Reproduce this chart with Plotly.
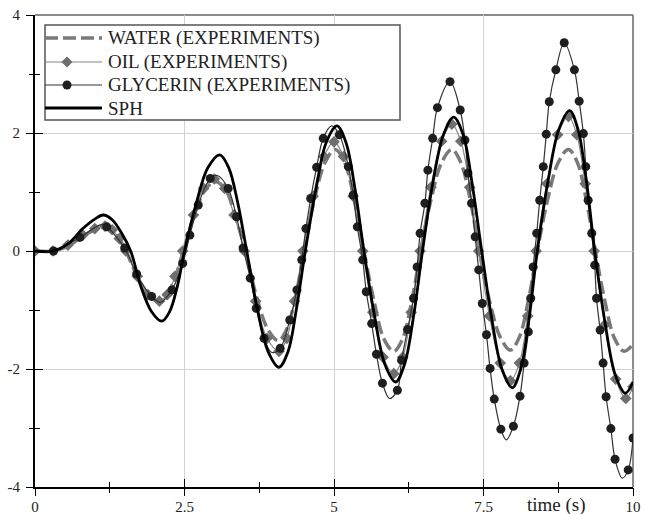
import plotly.graph_objects as go

# ---------------- data ----------------
water_t = [0, 0.3, 0.55, 0.8, 1.0, 1.17, 1.29, 1.41, 1.52, 1.71, 1.89, 2.08, 2.21, 2.35, 2.48,
           2.66, 2.84, 3.02, 3.19, 3.35, 3.52, 3.7, 3.89, 4.07, 4.21, 4.36, 4.5, 4.67, 4.85, 5.02,
           5.18, 5.34, 5.5, 5.67, 5.83, 6.0, 6.15, 6.3, 6.45, 6.62, 6.8, 6.97, 7.12, 7.28, 7.43,
           7.6, 7.78, 7.95, 8.1, 8.25, 8.4, 8.57, 8.75, 8.92, 9.07, 9.22, 9.37, 9.53, 9.69, 9.85, 10.0]
water_y = [0, 0, 0.08, 0.25, 0.36, 0.4, 0.35, 0.2, 0, -0.43, -0.74, -0.85, -0.74, -0.43, 0,
           0.59, 1.03, 1.18, 1.03, 0.59, 0, -0.76, -1.32, -1.52, -1.32, -0.76, 0, 0.86, 1.5, 1.72,
           1.5, 0.86, 0, -0.85, -1.48, -1.7, -1.48, -0.85, 0, 0.86, 1.5, 1.72, 1.5, 0.86, 0,
           -0.84, -1.46, -1.68, -1.46, -0.84, 0, 0.86, 1.5, 1.72, 1.5, 0.86, 0, -0.85, -1.48, -1.7, -1.58]

oil_t = [0, 0.3, 0.55, 0.8, 1.0, 1.17, 1.29, 1.41, 1.52, 1.71, 1.89, 2.08, 2.21, 2.34, 2.47,
         2.65, 2.82, 3.0, 3.17, 3.33, 3.5, 3.69, 3.88, 4.08, 4.21, 4.34, 4.48, 4.65, 4.83, 5.0,
         5.16, 5.32, 5.48, 5.65, 5.82, 6.0, 6.15, 6.29, 6.44, 6.62, 6.8, 6.97, 7.12, 7.27, 7.42,
         7.6, 7.78, 7.95, 8.1, 8.24, 8.38, 8.56, 8.74, 8.92, 9.06, 9.2, 9.35, 9.53, 9.71, 9.88, 10.0]
oil_y = [0, 0, 0.1, 0.27, 0.38, 0.42, 0.36, 0.21, 0, -0.43, -0.74, -0.85, -0.74, -0.43, 0,
         0.61, 1.06, 1.22, 1.06, 0.61, 0, -0.85, -1.48, -1.7, -1.48, -0.85, 0, 0.93, 1.6, 1.85,
         1.6, 0.93, 0, -1.04, -1.8, -2.08, -1.8, -1.04, 0, 1.08, 1.86, 2.15, 1.86, 1.08, 0,
         -1.1, -1.9, -2.2, -1.9, -1.1, 0, 1.14, 1.97, 2.28, 1.97, 1.14, 0, -1.25, -2.17, -2.5, -2.3]

# glycerin: measured points (drawn with markers)
glyc_t = [0.31, 0.75, 1.2, 1.5, 1.7, 1.95, 2.29, 2.47, 2.59, 2.73, 2.93, 3.23, 3.37, 3.48, 3.6,
          3.7, 3.83, 4.1, 4.26, 4.38, 4.46, 4.53, 4.61, 4.71, 4.82, 5.09, 5.24, 5.32, 5.39, 5.48,
          5.54, 5.63, 5.71, 5.81, 6.06, 6.13, 6.23, 6.33, 6.39, 6.44, 6.52, 6.57, 6.65, 6.73, 6.94,
          7.11, 7.19, 7.24, 7.3, 7.36, 7.42, 7.48, 7.55, 7.61, 7.68, 7.79, 8.0, 8.11, 8.18, 8.25,
          8.29, 8.33, 8.39, 8.44, 8.5, 8.55, 8.6, 8.71, 8.85, 9.02, 9.1, 9.17, 9.21, 9.25, 9.31,
          9.36, 9.39, 9.45, 9.5, 9.55, 9.63, 9.7, 9.92, 10.0]
glyc_y = [0.0, 0.23, 0.41, 0.05, -0.39, -0.77, -0.66, -0.21, 0.27, 0.78, 1.23, 1.06, 0.58, 0.05, -0.46,
          -0.97, -1.48, -1.65, -1.17, -0.66, -0.15, 0.38, 0.89, 1.42, 1.91, 1.97, 1.43, 0.95, 0.41, -0.15,
          -0.69, -1.23, -1.75, -2.24, -2.36, -1.85, -1.33, -0.8, -0.27, 0.3, 0.81, 1.37, 1.91, 2.43, 2.87,
          2.39, 1.88, 1.32, 0.81, 0.24, -0.32, -0.89, -1.42, -1.99, -2.51, -3.02, -2.97, -2.46, -1.9, -1.37,
          -0.8, -0.27, 0.3, 0.86, 1.43, 1.98, 2.53, 3.07, 3.53, 3.07, 2.54, 1.99, 1.43, 0.86, 0.3,
          -0.24, -0.8, -1.34, -1.9, -2.47, -3.01, -3.53, -3.71, -3.17]
# glycerin: extra points of the connecting curve (start and extrema between markers)
glyc_ext_t = [0.0, 1.12, 2.1, 3.05, 3.96, 4.96, 5.93, 7.88, 9.82]
glyc_ext_y = [0.0, 0.45, -0.87, 1.28, -1.72, 2.12, -2.5, -3.2, -3.85]

sph_t = [0, 0.3, 0.55, 0.8, 1.0, 1.14, 1.29, 1.45, 1.6, 1.77, 1.95, 2.12, 2.25, 2.38, 2.5,
         2.7, 2.89, 3.09, 3.24, 3.39, 3.54, 3.72, 3.9, 4.08, 4.23, 4.37, 4.52, 4.7, 4.87, 5.05,
         5.2, 5.35, 5.5, 5.68, 5.85, 6.03, 6.18, 6.33, 6.48, 6.65, 6.83, 7.0, 7.16, 7.31, 7.47,
         7.64, 7.81, 7.98, 8.12, 8.26, 8.4, 8.58, 8.76, 8.94, 9.08, 9.22, 9.36, 9.53, 9.7, 9.87, 10.0]
sph_y = [0, 0, 0.12, 0.38, 0.54, 0.61, 0.53, 0.3, 0, -0.6, -1.03, -1.19, -1.03, -0.6, 0,
         0.82, 1.41, 1.63, 1.41, 0.82, 0, -0.99, -1.71, -1.97, -1.71, -0.99, 0, 1.06, 1.84, 2.12,
         1.84, 1.06, 0, -1.11, -1.92, -2.22, -1.92, -1.11, 0, 1.14, 1.97, 2.27, 1.97, 1.14, 0,
         -1.16, -2.01, -2.32, -2.01, -1.16, 0, 1.19, 2.06, 2.38, 2.06, 1.19, 0, -1.2, -2.09, -2.41, -2.22]

series_names = ["WATER (EXPERIMENTS)", "OIL (EXPERIMENTS)", "GLYCERIN (EXPERIMENTS)", "SPH"]

x_ticks = [0, 2.5, 5, 7.5, 10]
x_labels = ["0", "2.5", "5", "7.5", "10"]
x_minor = [1.25, 3.75, 6.25, 8.75]
y_ticks = [-4, -2, 0, 2, 4]
y_labels = ["-4", "-2", "0", "2", "4"]
y_minor = [-3, -1, 1, 3]
x_title = "time (s)"

# ---------------- styles ----------------
SERIF = "Liberation Serif, Times New Roman, serif"
TXT = "#222222"
WATER_LINE = dict(color="#7a7a7a", width=3.5, dash="13px,5px")
OIL_LINE = dict(color="#858585", width=1.2)
OIL_MARK = dict(symbol="diamond", size=9, color="#6e6e6e")
GLY_LINE = dict(color="#333333", width=1.2)
GLY_MARK = dict(symbol="circle", size=9, color="#1e1e1e")
SPH_LINE = dict(color="#000000", width=2.8)

glyc_line = sorted(zip(glyc_t + glyc_ext_t, glyc_y + glyc_ext_y))
gl_t = [p[0] for p in glyc_line]
gl_y = [p[1] for p in glyc_line]

fig = go.Figure()
fig.add_trace(go.Scatter(x=water_t, y=water_y, mode="lines", name=series_names[0],
                         line=dict(WATER_LINE, shape="spline")))
fig.add_trace(go.Scatter(x=oil_t, y=oil_y, mode="lines+markers", name=series_names[1],
                         line=dict(OIL_LINE, shape="spline"), marker=OIL_MARK))
fig.add_trace(go.Scatter(x=gl_t, y=gl_y, mode="lines", name=series_names[2], hoverinfo="skip",
                         line=dict(GLY_LINE, shape="spline")))
fig.add_trace(go.Scatter(x=glyc_t, y=glyc_y, mode="markers", name=series_names[2],
                         marker=GLY_MARK))
fig.add_trace(go.Scatter(x=sph_t, y=sph_y, mode="lines", name=series_names[3],
                         line=dict(SPH_LINE, shape="spline")))
# empty trace so the overlay axes (outer half of the crossing ticks) are drawn
fig.add_trace(go.Scatter(x=[None], y=[None], xaxis="x3", yaxis="y3", hoverinfo="skip"))

# ---------------- legend box (drawn in paper coordinates) ----------------
L, R, B, T = 35, 633, 487, 15          # plot area in pixels
W, H = R - L, B - T
px = lambda v: (v - L) / W
py = lambda v: (B - v) / H

box = dict(x0=45, x1=400, y0=25, y1=120)
rows = [38, 62, 85, 108]
samp_x0, samp_x1, mark_x, text_x = 45, 102, 67, 106

shapes = [
    dict(type="line", xref="paper", yref="paper", x0=0, x1=1, y0=1, y1=1,
         line=dict(color="#666666", width=1.5), layer="below"),
    dict(type="line", xref="paper", yref="paper", x0=1, x1=1, y0=0, y1=1,
         line=dict(color="#666666", width=1.5), layer="below"),
    dict(type="rect", xref="paper", yref="paper", x0=px(box["x0"]), x1=px(box["x1"]),
         y0=py(box["y1"]), y1=py(box["y0"]), fillcolor="white",
         line=dict(color="#555555", width=1.5), layer="above"),
]
sample_lines = [WATER_LINE, OIL_LINE, GLY_LINE, SPH_LINE]
for r, ln in zip(rows, sample_lines):
    shapes.append(dict(type="line", xref="paper", yref="paper",
                       x0=px(samp_x0), x1=px(samp_x1), y0=py(r), y1=py(r),
                       line=dict(color=ln["color"], width=ln["width"],
                                 dash=ln.get("dash", "solid")), layer="above"))
# oil diamond and glycerin circle in the legend
shapes.append(dict(type="path", xref="paper", yref="paper", xsizemode="pixel", ysizemode="pixel",
                   xanchor=px(mark_x), yanchor=py(rows[1]),
                   path="M0,5.5 L5.5,0 L0,-5.5 L-5.5,0 Z",
                   fillcolor=OIL_MARK["color"], line=dict(width=0), layer="above"))
shapes.append(dict(type="circle", xref="paper", yref="paper", xsizemode="pixel", ysizemode="pixel",
                   xanchor=px(mark_x), yanchor=py(rows[2]), x0=-4.5, x1=4.5, y0=-4.5, y1=4.5,
                   fillcolor=GLY_MARK["color"], line=dict(width=0), layer="above"))

annotations = [
    dict(text=name, xref="paper", yref="paper", x=px(text_x), y=py(r),
         xanchor="left", yanchor="middle", showarrow=False,
         font=dict(family=SERIF, size=19, color=TXT))
    for name, r in zip(series_names, rows)
]
annotations.append(dict(text=x_title, xref="paper", yref="paper", x=px(556), y=-0.0385,
                        xanchor="center", yanchor="middle", showarrow=False,
                        font=dict(family=SERIF, size=19, color=TXT)))

tick_common = dict(tickcolor="black")
fig.update_layout(
    width=645, height=514,
    margin=dict(l=L, r=645 - R, t=T, b=514 - B, autoexpand=False),
    paper_bgcolor="white", plot_bgcolor="white",
    font=dict(family=SERIF, color=TXT, size=15),
    showlegend=False,
    xaxis=dict(range=[0, 10], tickvals=x_ticks, ticktext=x_labels, automargin=False,
               showline=True, linecolor="black", linewidth=2,
               ticks="inside", ticklen=8, tickwidth=1.4, ticklabelstandoff=5, **tick_common,
               minor=dict(tickvals=x_minor, ticks="inside", ticklen=5, tickwidth=1.2,
                          showgrid=False, **tick_common),
               showgrid=True, gridcolor="#d2d2d2", gridwidth=1, zeroline=False,
               tickfont=dict(family=SERIF, size=15, color=TXT)),
    yaxis=dict(range=[-4, 4], tickvals=y_ticks, ticktext=y_labels, automargin=False,
               showline=True, linecolor="black", linewidth=2,
               ticks="inside", ticklen=8, tickwidth=1.4, ticklabelstandoff=10, **tick_common,
               minor=dict(tickvals=y_minor, ticks="inside", ticklen=5, tickwidth=1.2,
                          showgrid=False, **tick_common),
               showgrid=True, gridcolor="#d2d2d2", gridwidth=1, zeroline=False,
               tickfont=dict(family=SERIF, size=15, color=TXT)),
    xaxis3=dict(overlaying="x", anchor="y", range=[0, 10], tickvals=x_ticks, automargin=False,
                showticklabels=False, showgrid=False, showline=False, zeroline=False,
                ticks="outside", ticklen=8, tickwidth=1.4, **tick_common,
                minor=dict(tickvals=x_minor, ticks="outside", ticklen=5, tickwidth=1.2,
                           showgrid=False, **tick_common)),
    yaxis3=dict(overlaying="y", anchor="x", range=[-4, 4], tickvals=y_ticks, automargin=False,
                showticklabels=False, showgrid=False, showline=False, zeroline=False,
                ticks="outside", ticklen=8, tickwidth=1.4, **tick_common,
                minor=dict(tickvals=y_minor, ticks="outside", ticklen=5, tickwidth=1.2,
                           showgrid=False, **tick_common)),
    shapes=shapes,
    annotations=annotations,
)

fig.write_html("out.html")
